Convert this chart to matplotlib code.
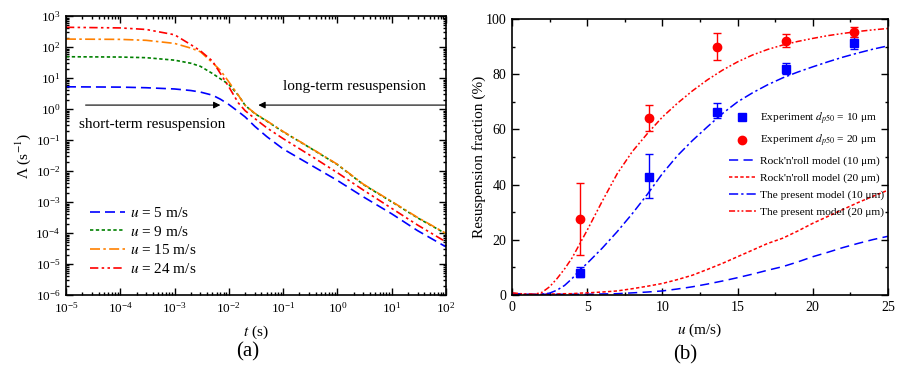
import matplotlib
matplotlib.use("Agg")
import matplotlib.pyplot as plt
from matplotlib.ticker import LogLocator, MultipleLocator, NullFormatter
from matplotlib.lines import Line2D

plt.rcParams['font.family'] = ['Liberation Serif', 'DejaVu Serif']
plt.rcParams['mathtext.fontset'] = 'stix'

# ---------------- panel (a) data ----------------
t_vals = [1e-5, 1e-4, 3e-4, 1e-3, 2e-3, 3e-3, 5e-3, 7e-3, 1e-2, 1.5e-2, 2e-2,
          3e-2, 5e-2, 1e-1, 3e-1, 1, 3, 10, 30, 100]
lam_u5 = [5.25, 5.13, 4.90, 4.47, 3.98, 3.55, 2.82, 2.09, 1.41, 0.83, 0.56,
          0.28, 0.13, 0.052, 0.017, 5.0e-3, 1.48e-3, 4.2e-4, 1.2e-4, 3.6e-5]
lam_u9 = [49.0, 47.9, 45.7, 38.0, 30.2, 24.0, 14.1, 9.5, 6.3, 2.8, 1.32,
          0.72, 0.41, 0.186, 0.059, 0.0162, 3.7e-3, 1.02e-3, 3.1e-4, 9.5e-5]
lam_u15 = [182, 178, 166, 132, 93, 71, 31.6, 17.8, 7.6, 2.8, 1.32,
           0.74, 0.42, 0.19, 0.060, 0.0166, 3.8e-3, 1.05e-3, 3.2e-4, 9.8e-5]
lam_u24 = [437, 417, 372, 251, 120, 76, 35.5, 14.1, 5.25, 1.58, 0.89,
           0.50, 0.25, 0.112, 0.034, 8.9e-3, 2.45e-3, 6.3e-4, 1.82e-4, 5.2e-5]
labels_a = ['$u$ = 5 m/s', '$u$ = 9 m/s', '$u$ = 15 m/s', '$u$ = 24 m/s']

# ---------------- panel (b) data ----------------
u_model = [0, 1, 1.5, 2, 2.5, 3, 3.5, 4, 4.5, 5, 6, 7, 8, 9, 10, 11, 12, 13,
           14, 15, 16, 17, 18, 19, 20, 21, 22, 23, 24, 25]
rnr_10 = [0.3, 0.3, 0.3, 0.3, 0.3, 0.3, 0.3, 0.3, 0.3, 0.3, 0.4, 0.5, 0.8, 1.1,
          1.5, 2.2, 3.0, 4.0, 5.1, 6.3, 7.6, 9.0, 10.3, 12.0, 13.9, 15.5, 17.2,
          18.7, 20.1, 21.3]
rnr_20 = [0.3, 0.3, 0.3, 0.3, 0.4, 0.4, 0.5, 0.5, 0.7, 0.8, 1.1, 1.5, 2.3, 3.2,
          4.2, 5.6, 7.2, 9.3, 11.5, 13.9, 16.3, 18.7, 20.6, 23.2, 26.0, 28.5,
          31.0, 33.5, 35.8, 38.0]
present_10 = [0.6, 0.2, 0.1, 0.3, 0.7, 1.8, 3.5, 6.0, 9.0, 11.5, 17.0, 23.0,
              29.5, 36.5, 44.0, 50.5, 56.0, 61.0, 65.8, 70.0, 73.3, 76.2, 78.7,
              80.8, 82.7, 84.5, 86.2, 87.7, 89.1, 90.3]
present_20 = [0.8, 0.3, 0.3, 1.0, 3.0, 6.0, 9.5, 13.5, 18.5, 23.5, 34.0, 44.0,
              52.0, 58.5, 64.5, 69.5, 74.0, 78.0, 81.5, 84.5, 87.0, 89.0, 90.6,
              91.9, 93.0, 94.0, 94.8, 95.5, 96.1, 96.6]

u_exp = [4.55, 9.1, 13.65, 18.2, 22.75]
exp_10 = [8.0, 42.8, 66.5, 82.0, 91.2]
exp_10_lo = [6.5, 35.0, 64.0, 80.0, 89.0]
exp_10_hi = [10.0, 51.0, 69.5, 84.0, 93.5]
exp_20 = [27.5, 64.3, 89.8, 92.2, 95.3]
exp_20_lo = [14.5, 59.5, 85.0, 90.0, 93.5]
exp_20_hi = [40.5, 69.0, 94.8, 94.5, 97.0]

BLUE = '#0000FF'
GREEN = '#008000'
ORANGE = '#FF8000'
RED = '#FF0000'

fig = plt.figure(figsize=(9.06, 3.67), dpi=100)
axa = fig.add_axes([0.0728, 0.196, 0.4194, 0.760])
axb = fig.add_axes([0.5651, 0.196, 0.415, 0.752])

def style_axis(ax, lsize):
    for s in ax.spines.values():
        s.set_linewidth(1.2)
    ax.tick_params(which='both', direction='in', top=True, right=True,
                   labelsize=lsize, width=1.0)
    ax.tick_params(which='major', length=5, pad=4)
    ax.tick_params(which='minor', length=2.5)

# ---------- panel (a) ----------
lw = 1.2
axa.plot(t_vals, lam_u5, color=BLUE, lw=lw, dashes=(6, 3), label=labels_a[0])
axa.plot(t_vals, lam_u9, color=GREEN, lw=lw, dashes=(2, 1.5), label=labels_a[1])
axa.plot(t_vals, lam_u15, color=ORANGE, lw=lw, dashes=(6, 2, 1.5, 2), label=labels_a[2])
axa.plot(t_vals, lam_u24, color=RED, lw=lw, dashes=(5, 2, 1.5, 2, 1.5, 2), label=labels_a[3])
axa.set_xscale('log')
axa.set_yscale('log')
axa.set_xlim(1e-5, 1e2)
axa.set_ylim(1e-6, 1e3)
axa.xaxis.set_major_locator(LogLocator(base=10, numticks=20))
axa.yaxis.set_major_locator(LogLocator(base=10, numticks=20))
axa.xaxis.set_minor_locator(LogLocator(base=10, subs=range(2, 10), numticks=100))
axa.yaxis.set_minor_locator(LogLocator(base=10, subs=range(2, 10), numticks=100))
axa.xaxis.set_minor_formatter(NullFormatter())
axa.yaxis.set_minor_formatter(NullFormatter())
style_axis(axa, 9.5)
axa.set_xlabel('$t$ (s)', fontsize=11, labelpad=6)
axa.set_ylabel('Λ (s$^{-1}$)', fontsize=11, labelpad=1.5)
axa.legend(loc='lower left', bbox_to_anchor=(0.035, 0.03), frameon=False,
           fontsize=11, handlelength=2.3, handletextpad=0.3,
           labelspacing=0.3, borderpad=0.2)

arrow_y = 1.35
axa.annotate('', xy=(7e-3, arrow_y), xytext=(2.3e-5, arrow_y),
             arrowprops=dict(arrowstyle='-|>', color='black', lw=0.8,
                             mutation_scale=10, shrinkA=0, shrinkB=0))
axa.annotate('', xy=(3.5e-2, arrow_y), xytext=(1e2, arrow_y),
             arrowprops=dict(arrowstyle='-|>', color='black', lw=0.8,
                             mutation_scale=10, shrinkA=0, shrinkB=0))
axa.text(3.8e-4, 0.31, 'short-term resuspension', fontsize=11,
         ha='center', va='center')
axa.text(2.1, 5.3, 'long-term resuspension', fontsize=11,
         ha='center', va='center')

# ---------- panel (b) ----------
axb.plot(u_model, rnr_10, color=BLUE, lw=1.1, dashes=(6, 3.5),
         label="Rock'n'roll model (10 μm)")
axb.plot(u_model, rnr_20, color=RED, lw=1.1, dashes=(2.2, 1.5),
         label="Rock'n'roll model (20 μm)")
axb.plot(u_model, present_10, color=BLUE, lw=1.1, dashes=(6, 2, 1.5, 2),
         label='The present model (10 μm)')
axb.plot(u_model, present_20, color=RED, lw=1.1, dashes=(4, 1.5, 1.2, 1.5, 1.2, 1.5),
         label='The present model (20 μm)')
err10 = [[m - lo for m, lo in zip(exp_10, exp_10_lo)],
         [hi - m for m, hi in zip(exp_10, exp_10_hi)]]
err20 = [[m - lo for m, lo in zip(exp_20, exp_20_lo)],
         [hi - m for m, hi in zip(exp_20, exp_20_hi)]]
axb.errorbar(u_exp, exp_10, yerr=err10, fmt='s', color=BLUE, ms=5.5,
             capsize=3, elinewidth=1.0, capthick=1.0)
axb.errorbar(u_exp, exp_20, yerr=err20, fmt='o', color=RED, ms=6,
             capsize=3, elinewidth=1.0, capthick=1.0)
axb.set_xlim(0, 25)
axb.set_ylim(0, 100)
axb.xaxis.set_major_locator(MultipleLocator(5))
axb.xaxis.set_minor_locator(MultipleLocator(2.5))
axb.yaxis.set_major_locator(MultipleLocator(20))
axb.yaxis.set_minor_locator(MultipleLocator(10))
style_axis(axb, 10)
axb.set_xlabel('$u$ (m/s)', fontsize=11, labelpad=6)
axb.set_ylabel('Resuspension fraction (%)', fontsize=11, labelpad=0)

handles, labs = axb.get_legend_handles_labels()
h_sq = Line2D([], [], marker='s', color=BLUE, ls='none', ms=5.5)
h_ci = Line2D([], [], marker='o', color=RED, ls='none', ms=6)
leg_handles = [h_sq, h_ci] + handles[:4]
leg_labels = ['Experiment $d_{\\mathit{p50}}$ = 10 μm',
              'Experiment $d_{\\mathit{p50}}$ = 20 μm'] + labs[:4]
axb.legend(leg_handles, leg_labels, loc='upper left', bbox_to_anchor=(0.555, 0.697),
           frameon=False, fontsize=8.2, handlelength=2.4, handletextpad=0.35,
           labelspacing=0.58, borderpad=0.2)

fig.text(0.273, 0.041, '(a)', fontsize=15, ha='center', va='center')
fig.text(0.756, 0.033, '(b)', fontsize=15, ha='center', va='center')

fig.savefig('out.png', dpi=100)
